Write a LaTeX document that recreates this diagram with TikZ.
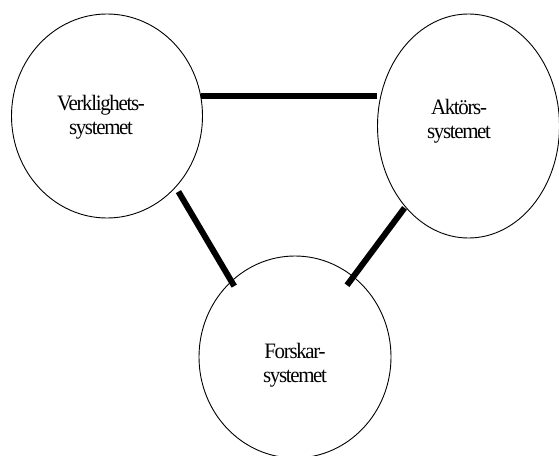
\documentclass[tikz,border=0pt]{standalone}
\usepackage{fontspec}
\newfontfamily\lblfont[FakeStretch=0.95,LetterSpace=-6]{Liberation Serif}
\usetikzlibrary{shapes.geometric}
\begin{document}
\begin{tikzpicture}[x=1pt,y=-1pt,
  sys/.style={ellipse,draw=black,line width=0.9pt,inner sep=0pt},
  lbl/.style={align=center,inner sep=0pt,font=\lblfont\fontsize{22}{24}\selectfont},
  conn/.style={line width=6pt,line cap=butt}]
\useasboundingbox (0,0) rectangle (559,455);
% the three systems
\node[sys,minimum width=191pt,minimum height=204pt] (L) at (107,116) {};
\node[sys,minimum width=182pt,minimum height=224pt] (R) at (468.5,126) {};
\node[sys,minimum width=192pt,minimum height=202pt] (B) at (295,357) {};
% labels
\node[lbl] (Ltext) at (101,117.4) {Verklighets-\\systemet};
\node[lbl] (Rtext) at (459,120.9) {Aktörs-\\systemet};
\node[lbl] (Btext) at (295,365.4) {Forskar-\\systemet};
% connections
\draw[conn] (L.12) -- (L.12 -| R.west);
\draw[conn,shorten <=5pt,shorten >=-6pt] (L.-46) -- (B.130);
\draw[conn,shorten <=1pt,shorten >=-11pt] (R.-128.6) -- (B.54.7);
\end{tikzpicture}
\end{document}
